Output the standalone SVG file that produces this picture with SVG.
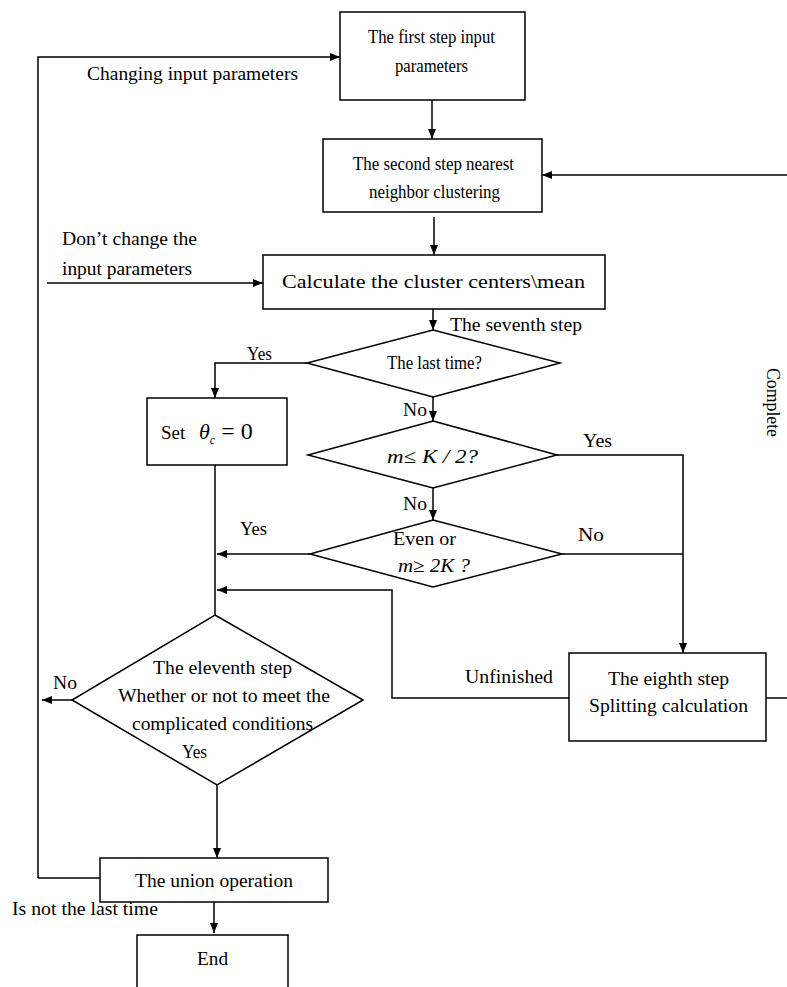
<svg xmlns="http://www.w3.org/2000/svg" width="787" height="987" viewBox="0 0 787 987">
<defs>
<marker id="ah" markerWidth="10" markerHeight="8" refX="10" refY="4" orient="auto" markerUnits="userSpaceOnUse">
<path d="M0,0 L10,4 L0,8 Z" fill="#000"/>
</marker>
<style>
.n{fill:#fff;stroke:#000;stroke-width:1.5}
.c{fill:none;stroke:#000;stroke-width:1.5}
.a{marker-end:url(#ah)}
text{font-family:"Liberation Serif","Times New Roman",serif;fill:#000;font-size:19px}
.m{text-anchor:middle}
.i{font-style:italic}
</style>
</defs>
<rect width="787" height="987" fill="#fff"/>
<g id="connectors">
<path class="c a" d="M38,878 L38,57 L340,57"/>
<path class="c" d="M100,878 L38,878"/>
<path class="c a" d="M432,100 L432,139"/>
<path class="c a" d="M787,175 L542,175"/>
<path class="c a" d="M434,217 L434,255"/>
<path class="c a" d="M47,283 L263,283"/>
<path class="c a" d="M433,309 L433,330"/>
<path class="c a" d="M307,363 L215,363 L215,398"/>
<path class="c a" d="M433,397 L433,421"/>
<path class="c a" d="M433,488 L433,520"/>
<path class="c a" d="M557,455 L683,455 L683,653"/>
<path class="c" d="M562,554 L683,554"/>
<path class="c a" d="M310,554 L217,554"/>
<path class="c" d="M215,465 L215,615"/>
<path class="c a" d="M569,698 L392,698 L392,590 L217,590"/>
<path class="c" d="M766,698 L787,698"/>
<path class="c a" d="M72,700 L42,700"/>
<path class="c a" d="M217,785 L217,858"/>
<path class="c a" d="M214,902 L214,933"/>
</g>
<g id="n1"><rect class="n" x="340" y="12" width="185" height="88"/>
<text x="368" y="43" font-size="16" textLength="127" lengthAdjust="spacingAndGlyphs">The first step input</text>
<text x="395" y="72" font-size="16" textLength="73" lengthAdjust="spacingAndGlyphs">parameters</text></g>
<g id="n2"><rect class="n" x="323" y="139" width="219" height="73"/>
<text x="353" y="170" font-size="17" textLength="161" lengthAdjust="spacingAndGlyphs">The second step nearest</text>
<text x="369" y="198" font-size="17" textLength="131" lengthAdjust="spacingAndGlyphs">neighbor clustering</text></g>
<g id="n3"><rect class="n" x="263" y="255" width="342" height="54"/>
<text x="282" y="288" font-size="22" textLength="303" lengthAdjust="spacingAndGlyphs">Calculate the cluster centers\mean</text></g>
<g id="d1"><polygon class="n" points="433,330 560,363 433,397 307,363"/>
<text x="387" y="369" font-size="16" textLength="95" lengthAdjust="spacingAndGlyphs">The last time?</text></g>
<g id="n4"><rect class="n" x="147" y="398" width="140" height="67"/>
<text x="161" y="439" font-size="20">Set <tspan class="i" dx="9" font-size="22">θ</tspan><tspan class="i" font-size="12" dy="5">c</tspan><tspan dy="-5" dx="6" font-size="24">= 0</tspan></text></g>
<g id="d2"><polygon class="n" points="433,421 557,455 433,488 308,455"/>
<text class="i" x="387" y="463" font-size="21" textLength="91" lengthAdjust="spacingAndGlyphs">m≤ K / 2?</text></g>
<g id="d3"><polygon class="n" points="433,520 562,554 433,587 310,554"/>
<text x="393" y="545" font-size="19" textLength="63" lengthAdjust="spacingAndGlyphs">Even or</text>
<text class="i" x="398" y="572" font-size="19" textLength="72" lengthAdjust="spacingAndGlyphs">m≥ 2K ?</text></g>
<g id="n5"><rect class="n" x="569" y="653" width="197" height="88"/>
<text x="608" y="685" textLength="121" lengthAdjust="spacingAndGlyphs">The eighth step</text>
<text x="589" y="712" textLength="159" lengthAdjust="spacingAndGlyphs">Splitting calculation</text></g>
<g id="d4"><polygon class="n" points="215,615 363,700 217,785 72,700"/>
<text x="153" y="674" textLength="139" lengthAdjust="spacingAndGlyphs">The eleventh step</text>
<text x="118" y="702" textLength="212" lengthAdjust="spacingAndGlyphs">Whether or not to meet the</text>
<text x="132" y="730" textLength="181" lengthAdjust="spacingAndGlyphs">complicated conditions</text>
<text x="182" y="758" textLength="25" lengthAdjust="spacingAndGlyphs">Yes</text></g>
<g id="n6"><rect class="n" x="100" y="858" width="228" height="44"/>
<text x="135" y="887" textLength="158" lengthAdjust="spacingAndGlyphs">The union operation</text></g>
<g id="n7"><rect class="n" x="137" y="935" width="151" height="60"/>
<text x="197" y="965" textLength="31" lengthAdjust="spacingAndGlyphs">End</text></g>
<g id="labels">
<text x="87" y="80" textLength="211" lengthAdjust="spacingAndGlyphs">Changing input parameters</text>
<text x="62" y="245" textLength="135" lengthAdjust="spacingAndGlyphs">Don’t change the</text>
<text x="62" y="275" textLength="130" lengthAdjust="spacingAndGlyphs">input parameters</text>
<text x="450" y="331" textLength="132" lengthAdjust="spacingAndGlyphs">The seventh step</text>
<text x="247" y="360" font-size="17" textLength="25" lengthAdjust="spacingAndGlyphs">Yes</text>
<text x="403" y="416" textLength="24" lengthAdjust="spacingAndGlyphs">No</text>
<text x="583" y="447" font-size="17" textLength="29" lengthAdjust="spacingAndGlyphs">Yes</text>
<text x="403" y="510" textLength="24" lengthAdjust="spacingAndGlyphs">No</text>
<text x="240" y="535" font-size="17" textLength="27" lengthAdjust="spacingAndGlyphs">Yes</text>
<text x="578" y="541" textLength="26" lengthAdjust="spacingAndGlyphs">No</text>
<text x="465" y="683" textLength="88" lengthAdjust="spacingAndGlyphs">Unfinished</text>
<text x="53" y="689" textLength="24" lengthAdjust="spacingAndGlyphs">No</text>
<text x="12" y="915" textLength="146" lengthAdjust="spacingAndGlyphs">Is not the last time</text>
<text transform="translate(767,368) rotate(90)" font-size="17" textLength="69" lengthAdjust="spacingAndGlyphs">Complete</text>
</g>
</svg>
